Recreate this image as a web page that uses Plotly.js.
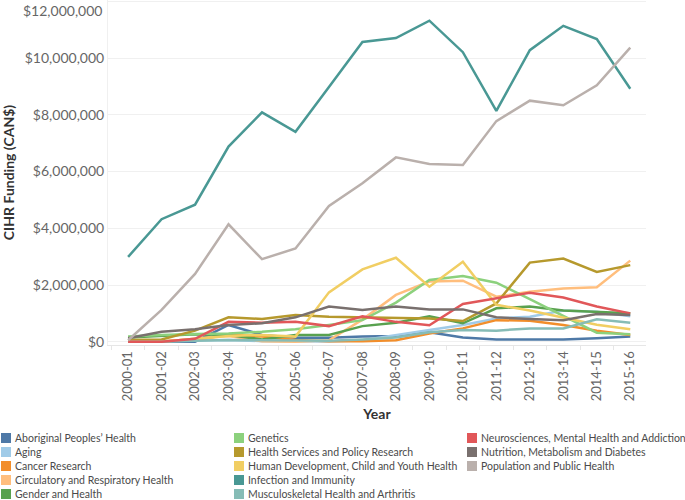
<!DOCTYPE html>
<html>
<head>
<meta charset="utf-8">
<script src="https://cdn.plot.ly/plotly-3.0.1.min.js"></script>
<style>html,body{margin:0;padding:0;background:#fff;}#chart{width:685px;height:500px;}</style>
</head>
<body>
<div id="chart"></div>
<script>
const years = ["2000-01","2001-02","2002-03","2003-04","2004-05","2005-06","2006-07","2007-08","2008-09","2009-10","2010-11","2011-12","2012-13","2013-14","2014-15","2015-16"];

const aboriginal      = [0, 0, 0, 590000, 240000, 140000, 140000, 180000, 200000, 330000, 150000, 80000, 90000, 80000, 120000, 180000];
const aging           = [0, 20000, 50000, 60000, 20000, 10000, 10000, 50000, 220000, 410000, 590000, 820000, 880000, 1100000, 1060000, 900000];
const cancer          = [20000, 20000, 60000, 250000, 180000, 60000, 20000, 20000, 50000, 290000, 470000, 760000, 740000, 590000, 390000, 240000];
const circulatory     = [0, 0, 100000, 200000, 20000, 0, 50000, 780000, 1650000, 2120000, 2150000, 1590000, 1760000, 1880000, 1920000, 2860000];
const gender          = [150000, 210000, 260000, 240000, 80000, 240000, 240000, 550000, 670000, 900000, 650000, 1180000, 1240000, 1100000, 1060000, 1000000];
const genetics        = [180000, 240000, 270000, 290000, 350000, 440000, 590000, 760000, 1380000, 2180000, 2320000, 2080000, 1500000, 900000, 320000, 260000];
const healthServices  = [60000, 80000, 390000, 860000, 800000, 940000, 880000, 860000, 860000, 820000, 730000, 1350000, 2790000, 2930000, 2460000, 2700000];
const humanDev        = [0, 0, 100000, 200000, 240000, 180000, 1740000, 2550000, 2960000, 1940000, 2820000, 1300000, 1100000, 860000, 600000, 440000];
const infection       = [2990000, 4320000, 4830000, 6880000, 8090000, 7400000, 8980000, 10570000, 10710000, 11320000, 10210000, 8140000, 10280000, 11140000, 10670000, 8920000];
const musculoskeletal = [0, 0, 30000, 60000, 50000, 30000, 30000, 80000, 150000, 330000, 410000, 390000, 470000, 470000, 790000, 670000];
const neuro           = [0, 0, 100000, 700000, 670000, 700000, 550000, 900000, 700000, 580000, 1330000, 1530000, 1730000, 1560000, 1240000, 1000000];
const nutrition       = [120000, 350000, 440000, 590000, 650000, 860000, 1240000, 1120000, 1240000, 1140000, 1140000, 860000, 800000, 760000, 980000, 940000];
const population      = [50000, 1120000, 2390000, 4140000, 2910000, 3290000, 4790000, 5590000, 6500000, 6270000, 6230000, 7780000, 8500000, 8340000, 9040000, 10370000];

const seriesNames = [
  "Aboriginal Peoples\u2019 Health","Aging","Cancer Research","Circulatory and Respiratory Health","Gender and Health",
  "Genetics","Health Services and Policy Research","Human Development, Child and Youth Health","Infection and Immunity","Musculoskeletal Health and Arthritis",
  "Neurosciences, Mental Health and Addiction","Nutrition, Metabolism and Diabetes","Population and Public Health"
];
const seriesValues = [aboriginal, aging, cancer, circulatory, gender, genetics, healthServices, humanDev, infection, musculoskeletal, neuro, nutrition, population];
const seriesColors = ["#4e79a7","#a0cbe8","#f28e2b","#ffbe7d","#59a14f","#8cd17d","#b6992d","#f1ce63","#499894","#86bcb6","#e15759","#79706e","#bab0ac"];

const yMax = 12000000, yStep = 2000000;

const FONT = "Lato, 'Open Sans', sans-serif";
const W = 685, H = 500;
const M = {l: 108, r: 39, t: 0, b: 155};
const PW = W - M.l - M.r, PH = H - M.t - M.b;
const px2x = px => (px - M.l) / PW;
const py2y = py => 1 - (py - M.t) / PH;

const traces = seriesNames.map((n, i) => ({
  type: "scatter", mode: "lines", name: n,
  x: years, y: seriesValues[i],
  line: {color: seriesColors[i], width: 2.5},
  showlegend: false,
  hovertemplate: "%{x}: %{y:$,}<extra>" + n + "</extra>"
}));

// Custom legend (3 columns, column-major like the original)
const shapes = [], annotations = [];
const colX = [1, 234, 467];
const rowY = [438, 452, 466, 480, 494];
seriesNames.forEach((n, i) => {
  const c = Math.floor(i / 5), r = i % 5;
  const x0 = colX[c], yc = rowY[r];
  shapes.push({type: "rect", xref: "paper", yref: "paper",
    x0: px2x(x0), x1: px2x(x0 + 10), y0: py2y(yc + 5), y1: py2y(yc - 5),
    fillcolor: seriesColors[i], line: {width: 0}});
  annotations.push({xref: "paper", yref: "paper", x: px2x(x0 + 12), y: py2y(yc),
    xanchor: "left", yanchor: "middle", showarrow: false, text: n,
    font: {family: FONT, size: 10.5, color: "#4a4a4a"}});
});

// top tick label (shifted down inside the page, as in the original)
annotations.push({xref: "paper", yref: "paper", x: px2x(104), y: py2y(10),
  xanchor: "right", yanchor: "middle", showarrow: false,
  text: "$" + yMax.toLocaleString("en-US"),
  font: {family: FONT, size: 14, color: "#666"}});

const layout = {
  width: W, height: H,
  margin: M,
  paper_bgcolor: "#fff", plot_bgcolor: "#fff",
  font: {family: FONT},
  showlegend: false,
  xaxis: {
    type: "category", range: [-0.6, 15.47],
    tickangle: -90, tickfont: {family: FONT, size: 13, color: "#666"},
    showgrid: false, zeroline: false,
    showline: true, linecolor: "#e6e6e6", linewidth: 1,
    ticks: "outside", tickson: "boundaries", ticklen: 4, tickcolor: "#e6e6e6",
    title: {text: "Year", font: {family: FONT, size: 14, color: "#333", weight: "bold"}, standoff: 8},
    automargin: false, fixedrange: true
  },
  yaxis: {
    range: [-116000, 12050000],
    dtick: yStep, tick0: 0, tickformat: "$,",
    tickfont: {family: FONT, size: 14, color: "#666"},
    showgrid: true, gridcolor: "#f0f0f0", gridwidth: 1,
    zeroline: false, showline: true, linecolor: "#f0f0f0",
    ticks: "", ticklen: 0,
    title: {text: "CIHR Funding (CAN$)", font: {family: FONT, size: 14, color: "#333", weight: "bold"}, standoff: 8},
    automargin: false, fixedrange: true
  },
  shapes: shapes,
  annotations: annotations
};

Plotly.newPlot("chart", traces, layout, {displayModeBar: false, staticPlot: true});
</script>
</body>
</html>
